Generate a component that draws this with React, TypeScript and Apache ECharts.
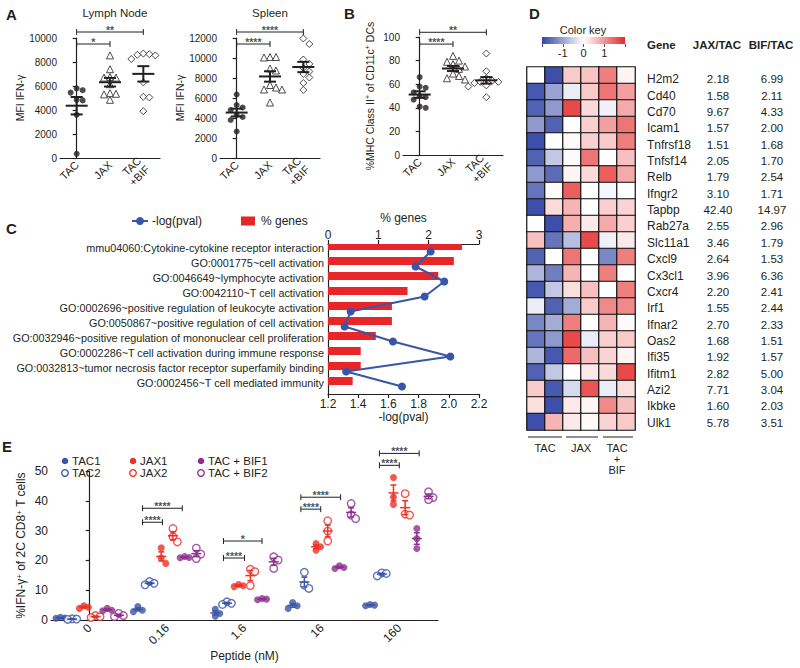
import React, { useEffect, useRef } from 'react';
import * as echarts from 'echarts';

const FONT = '"Liberation Sans", Arial, Helvetica, sans-serif';
const INK = '#231f20';

// ---------- Panel A / B data ----------
const groupNames = ['TAC', 'JAX', 'TAC\n+BIF'];
const lymphTAC = [5800, 5650, 5450, 4850, 4800, 3600, 350];
const lymphJAX = [8550, 7400, 6750, 6700, 6700, 6150, 5400, 5350, 5300, 4850];
const lymphBIF = [8700, 8650, 8600, 8550, 8250, 6300, 5100, 5050, 3900];
const spleenTAC = [6350, 5300, 5050, 4800, 4300, 4100, 3800, 2650];
const spleenJAX = [10100, 10100, 10050, 8950, 8750, 7300, 7050, 6850, 6850, 5550];
const spleenBIF = [11950, 11400, 9850, 9400, 9000, 8650, 8400, 8050, 7500, 6800];
const mhcTAC = [66, 58, 57, 53, 50, 49, 47, 41, 40];
const mhcJAX = [84, 80, 79, 77, 75, 73, 69, 67, 65, 64];
const mhcBIF = [86, 71, 65, 63, 62, 62, 61, 60, 59, 58, 49];
// [fromGroup, toGroup, y, label]
const lymphBrackets: [number, number, number, string][] = [[0, 2, 10500, '**'], [0, 1, 9500, '*']];
const spleenBrackets: [number, number, number, string][] = [[0, 2, 12600, '****'], [0, 1, 11400, '****']];
const mhcBrackets: [number, number, number, string][] = [[0, 2, 104, '**'], [0, 1, 94, '****']];

// ---------- Panel C data ----------
const goTerms = [
  'mmu04060:Cytokine-cytokine receptor interaction',
  'GO:0001775~cell activation',
  'GO:0046649~lymphocyte activation',
  'GO:0042110~T cell activation',
  'GO:0002696~positive regulation of leukocyte activation',
  'GO:0050867~positive regulation of cell activation',
  'GO:0032946~positive regulation of mononuclear cell proliferation',
  'GO:0002286~T cell activation during immune response',
  'GO:0032813~tumor necrosis factor receptor superfamily binding',
  'GO:0002456~T cell mediated immunity',
];
const pctGenes = [2.66, 2.5, 2.19, 1.58, 1.27, 1.27, 0.95, 0.65, 0.65, 0.49];
const negLogP = [1.88, 1.78, 1.97, 1.84, 1.35, 1.31, 1.63, 2.01, 1.32, 1.69];

// ---------- Panel D data ----------
const genes = ['H2m2', 'Cd40', 'Cd70', 'Icam1', 'Tnfrsf18', 'Tnfsf14', 'Relb', 'Ifngr2', 'Tapbp', 'Rab27a', 'Slc11a1',
  'Cxcl9', 'Cx3cl1', 'Cxcr4', 'Irf1', 'Ifnar2', 'Oas2', 'Ifi35', 'Ifitm1', 'Azi2', 'Ikbke', 'Ulk1'];
const jaxTac = [2.18, 1.58, 9.67, 1.57, 1.51, 2.05, 1.79, 3.1, 42.4, 2.55, 3.46, 2.64, 3.96, 2.2, 1.55, 2.7, 1.68, 1.92, 2.82, 7.71, 1.6, 5.78];
const bifTac = [6.99, 2.11, 4.33, 2.0, 1.68, 1.7, 2.54, 1.71, 14.97, 2.96, 1.79, 1.53, 6.36, 2.41, 2.44, 2.33, 1.51, 1.57, 5.0, 3.04, 2.03, 3.51];
const heatSamples = ['TAC1', 'TAC2', 'JAX1', 'JAX2', 'BIF1', 'BIF2'];
const heatGroups = ['TAC', 'JAX', 'TAC\n+\nBIF'];
const heatValues = [
  [0, -1.9, 0.5, 0.55, 1.2, 0.1],
  [-1.8, -1.0, -0.2, 0.5, 1.3, 0.9],
  [-1.7, -1.1, 1.7, 0.35, -0.15, 0.8],
  [-1.1, -1.7, 0, 0.45, 0.9, 1.3],
  [-1.9, 0, 0.05, 0.45, 0.5, 1.2],
  [-1.7, -0.6, 0.05, 1.3, 0, 0.6],
  [-1.1, -1.6, 0.1, 0.35, 1.5, 0.8],
  [-1.5, 0.05, 1.5, 0, -0.1, 0],
  [-1.9, 0.35, 0.7, 0, 0.45, 0.4],
  [0, -1.9, 0.75, 0.2, 0.8, 0.45],
  [0.6, -1.5, -0.7, 1.7, -0.15, 0.2],
  [-1.7, 0, 1.3, 0, -1.3, 1.2],
  [-0.8, -1.4, 0.7, 0, 1.2, 0],
  [-1.8, -0.6, 0.3, 0.6, 0, 1.2],
  [-0.2, -1.7, -0.9, 0.5, 1.1, 1.1],
  [-1.3, -0.9, 1.2, 0, 0.7, 0.05],
  [-1.5, -1.1, 1.7, -0.2, 0.45, 0.5],
  [-0.8, -1.8, 1.4, 0.6, 0.4, 0.1],
  [-1.7, -0.6, 0, 0.2, 0.35, 1.7],
  [0.5, -1.8, -0.4, 1.6, -0.2, 0.3],
  [0.3, -1.9, 0.2, 0.1, 1.1, 0.6],
  [-1.9, 0.7, 0.2, 0.05, 0.4, 0.5],
];
const colorKeyTicks = [-1, 0, 1];

// ---------- Panel E data ----------
const peptideLabels = ['0', '0.16', '1.6', '16', '160'];
const eTAC1 = [[0.9, 0.7, 0.6], [4.5, 3.3, 2.8], [3.6, 2.2, 1.3], [5.9, 4.8, 3.9], [5.2, 5.0, 4.8]];
const eTAC2 = [[0.4, 0.3, 0.2], [12.9, 11.8, 12.3], [6.1, 5.6, 5.2], [16.0, 11.7, 10.6], [15.8, 14.8, 15.6]];
const eJAX1 = [[4.8, 3.9, 4.3], [24.2, 20.8, 19.0], [11.9, 11.5, 11.2], [25.7, 24.6, 23.4], [47.8, 41.3, 38.8]];
const eJAX2 = [[1.5, 0.8, 1.1], [30.7, 27.9, 26.2], [17.0, 16.2, 11.5], [33.3, 29.8, 26.5], [42.4, 35.5, 35.2]];
const eBIF1 = [[3.9, 3.1, 3.3], [21.3, 21.0, 20.9], [7.2, 7.0, 6.8], [18.2, 17.3, 17.6], [30.7, 27.3, 24.0]];
const eBIF2 = [[2.2, 1.5, 1.1], [24.1, 22.1, 20.6], [21.2, 20.1, 17.3], [39.1, 35.2, 34.0], [43.0, 41.1, 40.4]];
const eNames = ['TAC1', 'TAC2', 'JAX1', 'JAX2', 'TAC + BIF1', 'TAC + BIF2'];
// [group, fromSub, toSub, y, label]
const eBrackets: [number, number, number, number, string][] = [
  [1, 0.4, 2.1, 32.8, '****'], [1, 0.4, 3.8, 37.5, '****'],
  [2, 0.7, 2.5, 20.8, '****'], [2, 0.7, 4.0, 26.5, '*'],
  [3, 0.7, 2.4, 37.2, '****'], [3, 0.7, 4.1, 41.2, '****'],
  [4, 0.8, 2.5, 51.9, '****'], [4, 0.8, 4.2, 55.9, '****'],
];

// ---------- styles ----------
const E_COLORS = ['#3b54a5', '#3b54a5', '#ec3127', '#ec3127', '#8e2f8f', '#8e2f8f'];
const E_FILLED = [true, false, true, false, true, false];
const C_RED = '#e8262a';
const C_BLUE = '#3b55a6';
const H_BLUE = '#3346a6';
const H_RED = '#e42a2a';

const mean = (a: number[]) => a.reduce((s, v) => s + v, 0) / a.length;
const sem = (a: number[]) => {
  const m = mean(a);
  const sd = Math.sqrt(a.reduce((s, v) => s + (v - m) * (v - m), 0) / (a.length - 1));
  return sd / Math.sqrt(a.length);
};

// horizontal spread of overlapping points (pixel offsets)
function swarm(vals: number[], pxPerVal: number, d: number, step: number) {
  const order = vals.map((_, i) => i).sort((a, b) => vals[b] - vals[a]);
  const placed: [number, number][] = [];
  const out = vals.map(() => 0);
  for (const i of order) {
    const y = vals[i] * pxPerVal;
    for (let k = 0; k < 30; k++) {
      const cand = k === 0 ? 0 : (k % 2 ? 1 : -1) * Math.ceil(k / 2) * step;
      const ok = placed.every((p) => Math.abs(p[1] - y) >= d || Math.abs(p[0] - cand) >= step * 0.99);
      if (ok) { out[i] = cand; placed.push([cand, y]); break; }
    }
  }
  return out;
}

function meanSemRenderer(color: string, halfMean: number, halfCap: number, lw: number) {
  return (params: any, api: any) => {
    const x = api.value(0), m = api.value(1), s = api.value(2);
    const c = api.coord([x, m]);
    const t = api.coord([x, m + s]);
    const b = api.coord([x, m - s]);
    const style = { stroke: color, lineWidth: lw };
    return {
      type: 'group',
      children: [
        { type: 'line', shape: { x1: c[0] - halfMean, y1: c[1], x2: c[0] + halfMean, y2: c[1] }, style },
        { type: 'line', shape: { x1: c[0], y1: t[1], x2: c[0], y2: b[1] }, style },
        { type: 'line', shape: { x1: c[0] - halfCap, y1: t[1], x2: c[0] + halfCap, y2: t[1] }, style },
        { type: 'line', shape: { x1: c[0] - halfCap, y1: b[1], x2: c[0] + halfCap, y2: b[1] }, style },
      ],
    };
  };
}

function bracketRenderer() {
  return (params: any, api: any) => {
    const p1 = api.coord([api.value(0), api.value(2)]);
    const p2 = api.coord([api.value(1), api.value(2)]);
    const st = { stroke: INK, lineWidth: 1 };
    return {
      type: 'group',
      children: [
        { type: 'line', shape: { x1: p1[0], y1: p1[1], x2: p2[0], y2: p2[1] }, style: st },
        { type: 'line', shape: { x1: p1[0], y1: p1[1] - 3, x2: p1[0], y2: p1[1] + 3 }, style: st },
        { type: 'line', shape: { x1: p2[0], y1: p2[1] - 3, x2: p2[0], y2: p2[1] + 3 }, style: st },
      ],
    };
  };
}

function starLabels(xAxisIndex: number, yAxisIndex: number, pts: number[][], labels: string[]) {
  return {
    type: 'scatter', xAxisIndex, yAxisIndex, symbolSize: 1, z: 4, silent: true, clip: false,
    itemStyle: { color: 'rgba(0,0,0,0)' },
    data: pts,
    label: {
      show: true, position: 'inside', align: 'center', verticalAlign: 'bottom', offset: [0, 3],
      fontSize: 10.5, fontWeight: 'bold', fontFamily: FONT, color: INK, textBorderWidth: 0,
      formatter: (p: any) => labels[p.dataIndex],
    },
  };
}

function buildOption() {
  const grid: any[] = [];
  const xAxis: any[] = [];
  const yAxis: any[] = [];
  const series: any[] = [];
  const graphic: any[] = [];
  const addG = (g: any) => { grid.push(g); return grid.length - 1; };
  const addX = (a: any) => { xAxis.push(a); return xAxis.length - 1; };
  const addY = (a: any) => { yAxis.push(a); return yAxis.length - 1; };
  const axisLineStyle = { lineStyle: { color: INK, width: 1.2 } };
  const tickStyle = { lineStyle: { color: INK, width: 1.2 } };

  // ----- dot plots (A, B) -----
  const dotPanel = (rect: any, yMax: number, yInt: number, groups: number[][], brackets: [number, number, number, string][], yName: any, nameGap: number, rich: any) => {
    const gi = addG({ ...rect });
    addX({
      type: 'category', gridIndex: gi, position: 'bottom', data: groupNames, boundaryGap: true,
      axisLine: axisLineStyle, axisTick: { alignWithLabel: true, length: 4, ...tickStyle },
      axisLabel: { rotate: 45, fontSize: 11, color: INK, fontFamily: FONT, margin: 5, lineHeight: 12, interval: 0 },
    });
    const xv = addX({ type: 'value', gridIndex: gi, position: 'bottom', min: -0.5, max: 2.5, show: false });
    const yi = addY({
      type: 'value', gridIndex: gi, min: 0, max: yMax, interval: yInt, position: 'left',
      axisLine: { show: true, ...axisLineStyle }, axisTick: { show: true, length: 4, ...tickStyle },
      splitLine: { show: false },
      axisLabel: { fontSize: 10, color: INK, fontFamily: FONT, margin: 3, formatter: (v: number) => String(v) },
      name: yName, nameLocation: 'middle', nameGap, nameRotate: 90,
      nameTextStyle: { fontSize: 10.5, color: INK, fontFamily: FONT, rich },
    });
    const pxPerVal = rect.height / yMax;
    const pxPerUnit = rect.width / 3;
    const symbols = [
      { symbol: 'circle', itemStyle: { color: INK } },
      { symbol: 'triangle', itemStyle: { color: '#fff', borderColor: INK, borderWidth: 1 } },
      { symbol: 'diamond', itemStyle: { color: '#fff', borderColor: INK, borderWidth: 1 } },
    ];
    groups.forEach((vals, k) => {
      const offs = swarm(vals, pxPerVal, 6, 6);
      series.push({
        type: 'scatter', xAxisIndex: xv, yAxisIndex: yi, symbol: symbols[k].symbol, symbolSize: k === 0 ? 6 : 7,
        itemStyle: symbols[k].itemStyle, z: 2,
        data: vals.map((v, i) => [k + offs[i] / pxPerUnit, v]),
      });
    });
    series.push({
      type: 'custom', xAxisIndex: xv, yAxisIndex: yi, z: 3, itemStyle: { color: INK },
      data: groups.map((vals, k) => [k, mean(vals), sem(vals)]),
      renderItem: meanSemRenderer(INK, 11, 6, 2),
    });
    series.push({
      type: 'custom', xAxisIndex: xv, yAxisIndex: yi, z: 3, itemStyle: { color: INK },
      data: brackets.map((b) => [b[0], b[1], b[2]]),
      renderItem: bracketRenderer(),
    });
    series.push(starLabels(xv, yi, brackets.map((b) => [(b[0] + b[1]) / 2, b[2]]), brackets.map((b) => b[3])));
  };

  dotPanel({ left: 60, top: 38, width: 100, height: 120 }, 10000, 2000, [lymphTAC, lymphJAX, lymphBIF], lymphBrackets, 'MFI IFN-γ', 33, {});
  dotPanel({ left: 220, top: 38, width: 100, height: 120 }, 12000, 2000, [spleenTAC, spleenJAX, spleenBIF], spleenBrackets, 'MFI IFN-γ', 35, {});
  dotPanel({ left: 403, top: 37, width: 100, height: 118 }, 100, 20, [mhcTAC, mhcJAX, mhcBIF], mhcBrackets,
    '%MHC Class II{sup|+} of CD11c{sup|+} DCs', 28,
    { sup: { fontSize: 7, verticalAlign: 'top', lineHeight: 10, color: INK, fontFamily: FONT } });

  // ----- C -----
  const gc = addG({ left: 328, top: 244, width: 151, height: 150 });
  const cxTop = addX({
    type: 'value', gridIndex: gc, position: 'top', min: 0, max: 3, interval: 1,
    axisLine: { show: true, ...axisLineStyle }, axisTick: { show: true, length: 4, ...tickStyle }, splitLine: { show: false },
    axisLabel: { fontSize: 12, color: INK, fontFamily: FONT, margin: 3 },
    name: '% genes', nameLocation: 'middle', nameGap: 20, nameTextStyle: { fontSize: 12, color: INK, fontFamily: FONT },
  });
  const cxBot = addX({
    type: 'value', gridIndex: gc, position: 'bottom', min: 1.2, max: 2.2, interval: 0.2,
    axisLine: { show: true, ...axisLineStyle }, axisTick: { show: true, length: 4, ...tickStyle }, splitLine: { show: false },
    axisLabel: { fontSize: 12, color: INK, fontFamily: FONT, margin: 4, formatter: (v: number) => v.toFixed(1) },
    name: '-log(pval)', nameLocation: 'middle', nameGap: 16, nameTextStyle: { fontSize: 12, color: INK, fontFamily: FONT },
  });
  const cy = addY({
    type: 'category', gridIndex: gc, position: 'left', inverse: true, data: goTerms,
    axisLine: axisLineStyle, axisTick: { alignWithLabel: true, length: 3, ...tickStyle },
    axisLabel: { fontSize: 10.8, color: INK, fontFamily: FONT, margin: 4, interval: 0, verticalAlign: 'bottom', lineHeight: 8 },
  });
  series.push({
    type: 'bar', name: '% genes', xAxisIndex: cxTop, yAxisIndex: cy, data: pctGenes, barWidth: 8, barGap: '37.5%',
    itemStyle: { color: C_RED },
  });
  series.push({
    type: 'bar', name: 'spacer', xAxisIndex: cxTop, yAxisIndex: cy, data: pctGenes.map(() => null), barWidth: 8,
    itemStyle: { color: 'transparent' },
  });
  series.push({
    type: 'line', name: '-log(pval)', xAxisIndex: cxBot, yAxisIndex: cy, data: negLogP, symbol: 'circle', symbolSize: 8,
    lineStyle: { color: C_BLUE, width: 2 }, itemStyle: { color: C_BLUE }, z: 4,
  });
  // legend C
  graphic.push(
    { type: 'line', shape: { x1: 132, y1: 221, x2: 148, y2: 221 }, style: { stroke: C_BLUE, lineWidth: 2 } },
    { type: 'circle', shape: { cx: 140, cy: 221, r: 4 }, style: { fill: C_BLUE } },
    { type: 'text', x: 152, y: 221, style: { text: '-log(pval)', fontSize: 12, fontFamily: FONT, fill: INK, verticalAlign: 'middle', textVerticalAlign: 'middle' } },
    { type: 'rect', shape: { x: 241, y: 216.5, width: 14, height: 9 }, style: { fill: C_RED } },
    { type: 'text', x: 261, y: 221, style: { text: '% genes', fontSize: 12, fontFamily: FONT, fill: INK, verticalAlign: 'middle', textVerticalAlign: 'middle' } },
  );

  // ----- D heatmap -----
  const gh = addG({ left: 527, top: 67, width: 108, height: 363 });
  const hx = addX({ type: 'category', gridIndex: gh, position: 'bottom', data: heatSamples, show: false });
  addX({
    type: 'category', gridIndex: gh, position: 'bottom', data: heatGroups,
    axisLine: { show: false }, axisTick: { show: false },
    axisLabel: { fontSize: 11, color: INK, fontFamily: FONT, margin: 12, lineHeight: 11, interval: 0 },
  });
  const hy = addY({ type: 'category', gridIndex: gh, inverse: true, data: genes, show: false });
  const heatData: number[][] = [];
  heatValues.forEach((row, r) => row.forEach((v, c) => heatData.push([c, r, v])));
  const heatIdx = series.length;
  series.push({
    type: 'heatmap', xAxisIndex: hx, yAxisIndex: hy, data: heatData,
    itemStyle: { borderColor: '#111', borderWidth: 1.2 },
  });
  // column group lines
  [[528, 562], [566, 598], [603, 633]].forEach(([a, b]) =>
    graphic.push({ type: 'line', shape: { x1: a, y1: 437, x2: b, y2: 437 }, style: { stroke: INK, lineWidth: 1 } }));

  // color key
  const gk = addG({ left: 542, top: 37, width: 83, height: 7 });
  addX({
    type: 'value', gridIndex: gk, position: 'bottom', min: -2, max: 2, interval: 1,
    axisLine: { show: false }, axisTick: { show: true, length: 3, lineStyle: { color: '#555' } }, splitLine: { show: false },
    axisLabel: {
      fontSize: 11, color: INK, fontFamily: FONT, margin: 3,
      formatter: (v: number) => (colorKeyTicks.includes(v) ? String(v) : ''),
    },
  });
  addY({ type: 'value', gridIndex: gk, show: false, min: 0, max: 1 });
  graphic.push(
    {
      type: 'rect', shape: { x: 542, y: 37, width: 83, height: 7 },
      style: { fill: new echarts.graphic.LinearGradient(0, 0, 1, 0, [{ offset: 0, color: H_BLUE }, { offset: 0.5, color: '#ffffff' }, { offset: 1, color: H_RED }]) },
    },
    { type: 'text', x: 583, y: 30, style: { text: 'Color key', fontSize: 11, fontFamily: FONT, fill: INK, align: 'center', textAlign: 'center', verticalAlign: 'middle', textVerticalAlign: 'middle' } },
  );

  // table
  const gt = addG({ left: 600, top: 71, width: 40, height: 360 });
  addX({ type: 'value', gridIndex: gt, show: false });
  addY({
    type: 'category', gridIndex: gt, position: 'right', inverse: true, data: genes,
    axisLine: { show: false }, axisTick: { show: false },
    axisLabel: {
      margin: 7, interval: 0, fontSize: 12, color: INK, fontFamily: FONT,
      formatter: (v: string, i: number) => `{g|${v}}{a|${jaxTac[i].toFixed(2)}}{b|${bifTac[i].toFixed(2)}}`,
      rich: {
        g: { width: 51, align: 'left', fontSize: 12, color: INK, fontFamily: FONT },
        a: { width: 40, align: 'center', fontSize: 11.5, color: INK, fontFamily: FONT },
        b: { width: 68, align: 'center', fontSize: 11.5, color: INK, fontFamily: FONT },
      },
    },
  });
  const hdr = (text: string, x: number, align: string) => ({
    type: 'text', x, y: 45,
    style: { text, fontSize: 11.5, fontWeight: 'bold', fontFamily: FONT, fill: INK, align, textAlign: align, verticalAlign: 'middle', textVerticalAlign: 'middle' },
  });
  graphic.push(hdr('Gene', 647, 'left'), hdr('JAX/TAC', 717, 'center'), hdr('BIF/TAC', 771, 'center'));

  // ----- E -----
  const ge = addG({ left: 51, top: 471, width: 387, height: 149 });
  addX({
    type: 'category', gridIndex: ge, position: 'bottom', data: peptideLabels, boundaryGap: true,
    axisLine: axisLineStyle, axisTick: { alignWithLabel: true, length: 4, ...tickStyle },
    axisLabel: { rotate: 45, fontSize: 12, color: INK, fontFamily: FONT, margin: 6, interval: 0 },
    name: 'Peptide (nM)', nameLocation: 'middle', nameGap: 27, nameTextStyle: { fontSize: 12, color: INK, fontFamily: FONT },
  });
  const exv = addX({ type: 'value', gridIndex: ge, position: 'bottom', min: -0.5, max: 4.5, show: false });
  const eyi = addY({
    type: 'value', gridIndex: ge, position: 'left', min: 0, max: 50, interval: 10,
    axisLine: { show: true, ...axisLineStyle }, axisTick: { show: true, length: 4, ...tickStyle }, splitLine: { show: false },
    axisLabel: { fontSize: 12, color: INK, fontFamily: FONT, margin: 3 },
    name: '%IFN-γ{sup|+} of 2C CD8{sup|+} T cells', nameLocation: 'middle', nameGap: 24, nameRotate: 90,
    nameTextStyle: { fontSize: 12, color: INK, fontFamily: FONT, rich: { sup: { fontSize: 8, verticalAlign: 'top', lineHeight: 10, color: INK, fontFamily: FONT } } },
  });
  const SUB = 0.151;
  const eSets = [eTAC1, eTAC2, eJAX1, eJAX2, eBIF1, eBIF2];
  const ePxPerVal = 149 / 50;
  const ePxPerUnit = 387 / 5;
  eSets.forEach((set, s) => {
    const color = E_COLORS[s];
    const pts: number[][] = [];
    set.forEach((reps, g) => {
      const offs = swarm(reps, ePxPerVal, 6.5, 4.5);
      reps.forEach((v, r) => pts.push([g + (s - 2.5) * SUB + offs[r] / ePxPerUnit, v]));
    });
    series.push({
      type: 'scatter', name: eNames[s], xAxisIndex: exv, yAxisIndex: eyi, symbol: 'circle', symbolSize: E_FILLED[s] ? 7 : 7.5, z: 2,
      itemStyle: E_FILLED[s] ? { color } : { color: '#fff', borderColor: color, borderWidth: 1.4 },
      data: pts,
    });
    series.push({
      type: 'custom', xAxisIndex: exv, yAxisIndex: eyi, z: 3, itemStyle: { color },
      data: set.map((reps, g) => [g + (s - 2.5) * SUB, mean(reps), sem(reps)]),
      renderItem: meanSemRenderer(color, 5, 3, 1.5),
    });
  });
  const eBr = eBrackets.map((b) => [b[0] + (b[1] - 2.5) * SUB, b[0] + (b[2] - 2.5) * SUB, b[3]]);
  series.push({
    type: 'custom', xAxisIndex: exv, yAxisIndex: eyi, z: 3, itemStyle: { color: INK },
    data: eBr,
    renderItem: bracketRenderer(),
  });
  series.push(starLabels(exv, eyi, eBr.map((b) => [(b[0] + b[1]) / 2, b[2]]), eBrackets.map((b) => b[4])));
  // legend E
  const legX = [65, 133, 201];
  eNames.forEach((n, s) => {
    const cx = legX[Math.floor(s / 2)];
    const cy = s % 2 === 0 ? 461 : 473;
    graphic.push({
      type: 'circle', shape: { cx, cy, r: 3.3 },
      style: E_FILLED[s] ? { fill: E_COLORS[s] } : { fill: '#fff', stroke: E_COLORS[s], lineWidth: 1.3 },
    });
    graphic.push({
      type: 'text', x: cx + 7, y: cy,
      style: { text: n, fontSize: 11.5, fontFamily: FONT, fill: INK, verticalAlign: 'middle', textVerticalAlign: 'middle' },
    });
  });

  // titles and panel letters
  const txt = (text: string, x: number, y: number, size: number, bold = false, align = 'center') => ({
    type: 'text', x, y,
    style: { text, fontSize: size, fontWeight: bold ? 'bold' : 'normal', fontFamily: FONT, fill: INK, align, textAlign: align, verticalAlign: 'middle', textVerticalAlign: 'middle' },
  });
  graphic.push(
    txt('Lymph Node', 115, 13, 11.5),
    txt('Spleen', 270, 13, 11.5),
    txt('A', 6, 14, 15, true, 'left'),
    txt('B', 344, 13, 15, true, 'left'),
    txt('C', 6, 228, 15, true, 'left'),
    txt('D', 529, 13, 15, true, 'left'),
    txt('E', 2, 446, 15, true, 'left'),
  );

  return {
    animation: false,
    backgroundColor: '#ffffff',
    textStyle: { fontFamily: FONT, color: INK },
    grid, xAxis, yAxis, series, graphic,
    visualMap: [{
      type: 'continuous', show: false, min: -2, max: 2, seriesIndex: heatIdx, dimension: 2,
      inRange: { color: [H_BLUE, '#ffffff', H_RED] },
    }],
  };
}

export default function App() {
  const ref = useRef<HTMLDivElement>(null);
  useEffect(() => {
    const chart = echarts.init(ref.current as HTMLDivElement, null, { renderer: 'svg' });
    chart.setOption(buildOption() as any);
    return () => chart.dispose();
  }, []);
  return <div ref={ref} style={{ position: 'fixed', left: 0, top: 0, width: 800, height: 668, background: '#fff' }} />;
}
